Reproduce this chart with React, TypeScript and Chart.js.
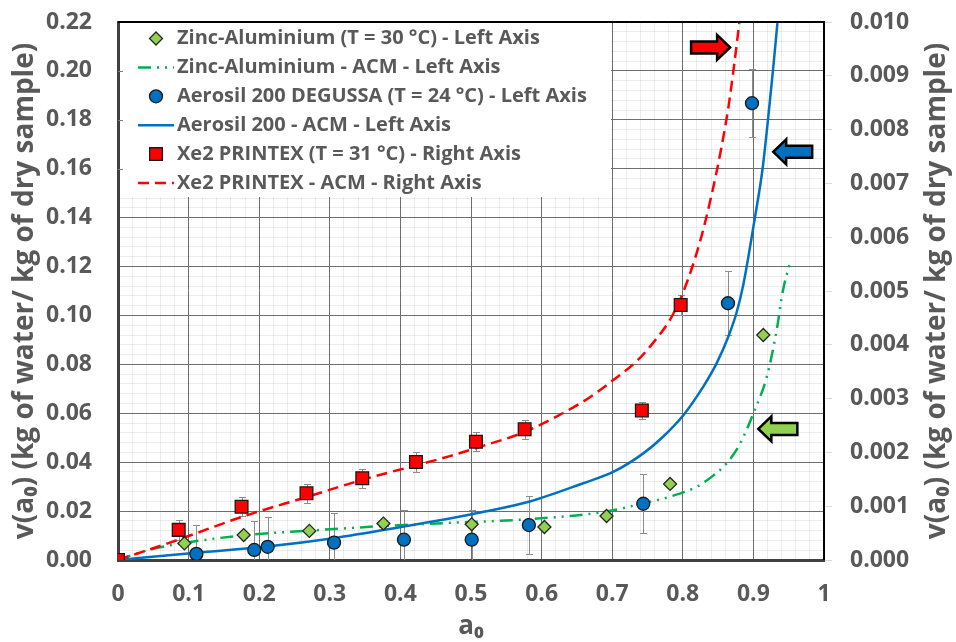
import React, { useEffect, useRef } from 'react';
import { Chart, registerables } from 'chart.js';

Chart.register(...registerables);

const FONT = "'Open Sans', 'DejaVu Sans', sans-serif";
const TEXT_GRAY = '#595959';
const MAJOR_GRID = '#6e6e6e';
const MINOR_GRID = 'rgba(0,0,0,0.075)';

// ---- Measured data (a0 = water activity, v = kg water / kg dry sample) ----
const zincA = [0.094, 0.178, 0.271, 0.376, 0.501, 0.604, 0.692, 0.782, 0.914];
const zincV = [0.0068, 0.0102, 0.0119, 0.0149, 0.0146, 0.0135, 0.018, 0.0311, 0.092];

const aerosilA = [0.111, 0.193, 0.212, 0.306, 0.405, 0.501, 0.582, 0.744, 0.864, 0.898];
const aerosilV = [0.0025, 0.0041, 0.0054, 0.0071, 0.0083, 0.0083, 0.0143, 0.023, 0.105, 0.1868];
const aerosilErr = [0.012, 0.012, 0.012, 0.012, 0.012, 0.012, 0.012, 0.012, 0.013, 0.014];

const xe2A = [0, 0.086, 0.175, 0.267, 0.346, 0.422, 0.507, 0.576, 0.742, 0.797];
const xe2V = [0, 0.00056, 0.00099, 0.00124, 0.00152, 0.00182, 0.0022, 0.00243, 0.00278, 0.00474];
const xe2Err = [0, 0.00018, 0.00018, 0.00018, 0.00018, 0.00018, 0.00018, 0.00018, 0.00015, 0.00018];

// ---- ACM model curves ----
const zincAcmA = [0, 0.03, 0.06, 0.094, 0.178, 0.271, 0.376, 0.47, 0.582, 0.692, 0.744, 0.782, 0.82, 0.843, 0.862, 0.876, 0.886, 0.9, 0.919, 0.933, 0.942, 0.951];
const zincAcmV = [0, 0.003, 0.0052, 0.007, 0.0101, 0.012, 0.0139, 0.0152, 0.0167, 0.0198, 0.0232, 0.0259, 0.03, 0.0345, 0.0395, 0.045, 0.0504, 0.06, 0.075, 0.0941, 0.1104, 0.1207];

const aerosilAcmA = [0, 0.111, 0.211, 0.305, 0.405, 0.47, 0.513, 0.582, 0.659, 0.702, 0.744, 0.772, 0.801, 0.829, 0.848, 0.864, 0.876, 0.886, 0.901, 0.913, 0.921, 0.928, 0.934];
const aerosilAcmV = [0, 0.003, 0.0055, 0.0089, 0.0137, 0.017, 0.0194, 0.0238, 0.0314, 0.0361, 0.0436, 0.0504, 0.0593, 0.0709, 0.0805, 0.091, 0.101, 0.113, 0.138, 0.16, 0.181, 0.201, 0.2195];

const xe2AcmA = [0, 0.086, 0.175, 0.267, 0.346, 0.422, 0.47, 0.507, 0.576, 0.626, 0.669, 0.7, 0.735, 0.763, 0.782, 0.8, 0.824, 0.841, 0.854, 0.865, 0.873, 0.88];
const xe2AcmV = [0, 0.00038, 0.0008, 0.00117, 0.00149, 0.00176, 0.00193, 0.00208, 0.00238, 0.0027, 0.00303, 0.00333, 0.0037, 0.00412, 0.00447, 0.00496, 0.0059, 0.0068, 0.00762, 0.00845, 0.00923, 0.00998];

// ---- Labels ----
const seriesLabels = [
  'Zinc-Aluminium (T = 30 °C) - Left Axis',
  'Zinc-Aluminium - ACM - Left Axis',
  'Aerosil 200 DEGUSSA (T = 24 °C) - Left Axis',
  'Aerosil 200 - ACM - Left Axis',
  'Xe2 PRINTEX (T = 31 °C) - Right Axis',
  'Xe2 PRINTEX - ACM - Right Axis',
];
const yTitle = 'v(a₀) (kg of water/ kg of dry sample)';
const xTitle = 'a₀';

// ---- Arrow annotations (tip position in a0 / left-axis units) ----
const arrowA = [0.867, 0.928, 0.907];
const arrowV = [0.2096, 0.1669, 0.0536];
const arrowDir = ['right', 'left', 'left'];
const arrowColor = ['#FF0000', '#0070C0', '#92D050'];

const pts = (xs: number[], ys: number[]) => xs.map((x, i) => ({ x, y: ys[i] }));
const isMult = (v: number, step: number) => Math.abs(v / step - Math.round(v / step)) < 1e-6;

function drawMarker(ctx: CanvasRenderingContext2D, style: string, x: number, y: number, r: number, fill: string, stroke: string, bw: number) {
  ctx.beginPath();
  if (style === 'circle') {
    ctx.arc(x, y, r, 0, Math.PI * 2);
  } else if (style === 'rectRot') {
    ctx.moveTo(x, y - r);
    ctx.lineTo(x + r, y);
    ctx.lineTo(x, y + r);
    ctx.lineTo(x - r, y);
    ctx.closePath();
  } else {
    const h = r * Math.SQRT1_2;
    ctx.rect(x - h, y - h, 2 * h, 2 * h);
  }
  ctx.fillStyle = fill;
  ctx.fill();
  ctx.lineWidth = bw;
  ctx.strokeStyle = stroke;
  ctx.stroke();
}

const errorBarPlugin = {
  id: 'errorBars',
  beforeDatasetsDraw(chart: any) {
    const { ctx, chartArea } = chart;
    ctx.save();
    ctx.beginPath();
    ctx.rect(chartArea.left, chartArea.top, chartArea.right - chartArea.left, chartArea.bottom - chartArea.top);
    ctx.clip();
    ctx.strokeStyle = '#8c8c8c';
    ctx.lineWidth = 1;
    chart.data.datasets.forEach((ds: any) => {
      const errs = ds.errorBars;
      if (!errs) return;
      const xs = chart.scales.x;
      const ys = chart.scales[ds.yAxisID];
      ds.data.forEach((p: any, i: number) => {
        const e = errs[i];
        if (!e) return;
        const px = Math.round(xs.getPixelForValue(p.x)) + 0.5;
        const y1 = Math.round(ys.getPixelForValue(p.y + e)) + 0.5;
        const y2 = Math.round(ys.getPixelForValue(p.y - e)) + 0.5;
        ctx.beginPath();
        ctx.moveTo(px, y1);
        ctx.lineTo(px, y2);
        ctx.moveTo(px - 3.5, y1);
        ctx.lineTo(px + 3.5, y1);
        ctx.moveTo(px - 3.5, y2);
        ctx.lineTo(px + 3.5, y2);
        ctx.stroke();
      });
    });
    ctx.restore();
  },
};

const legendPlugin = {
  id: 'boxLegend',
  beforeDatasetsDraw(chart: any) {
    const { ctx, chartArea } = chart;
    const left = chartArea.left;
    const top = chartArea.top;
    ctx.save();
    ctx.fillStyle = '#ffffff';
    ctx.fillRect(left + 2, top + 1, 491, 174);
    // inner tick marks of the left axis visible in the legend box
    const ys = chart.scales.y;
    ctx.strokeStyle = '#7f7f7f';
    ctx.lineWidth = 1;
    [0.2, 0.18, 0.16].forEach((v) => {
      const py = Math.round(ys.getPixelForValue(v)) + 0.5;
      ctx.beginPath();
      ctx.moveTo(left, py);
      ctx.lineTo(left + 5, py);
      ctx.stroke();
    });
    chart.data.datasets.forEach((ds: any, i: number) => {
      const cy = top + 16.5 + i * 28.9;
      const cx = left + 38;
      if (ds.showLine) {
        ctx.save();
        ctx.beginPath();
        ctx.setLineDash(ds.borderDash || []);
        ctx.lineWidth = ds.borderWidth;
        ctx.strokeStyle = ds.borderColor;
        ctx.moveTo(cx - 18, cy);
        ctx.lineTo(cx + 18, cy);
        ctx.stroke();
        ctx.restore();
      } else {
        drawMarker(ctx, ds.pointStyle, cx, cy, ds.pointRadius, ds.pointBackgroundColor, ds.pointBorderColor, ds.pointBorderWidth);
      }
      ctx.fillStyle = TEXT_GRAY;
      ctx.font = `bold 20px ${FONT}`;
      ctx.textAlign = 'left';
      ctx.textBaseline = 'middle';
      ctx.fillText(ds.label, left + 59, cy);
    });
    ctx.restore();
  },
};

const framePlugin = {
  id: 'frameArrows',
  afterDatasetsDraw(chart: any) {
    const { ctx, chartArea } = chart;
    ctx.save();
    // top & right frame
    ctx.strokeStyle = '#000000';
    ctx.lineWidth = 2;
    ctx.beginPath();
    ctx.moveTo(chartArea.left, chartArea.top);
    ctx.lineTo(chartArea.right, chartArea.top);
    ctx.lineTo(chartArea.right, chartArea.bottom);
    ctx.stroke();
    // arrows
    const xs = chart.scales.x;
    const ys = chart.scales.y;
    arrowA.forEach((a, i) => {
      const tx = xs.getPixelForValue(a);
      const ty = ys.getPixelForValue(arrowV[i]);
      const s = arrowDir[i] === 'right' ? -1 : 1;
      const L = 39, headL = 13, headH = 25, bodyH = 12;
      ctx.beginPath();
      ctx.moveTo(tx, ty);
      ctx.lineTo(tx + s * headL, ty - headH / 2);
      ctx.lineTo(tx + s * headL, ty - bodyH / 2);
      ctx.lineTo(tx + s * L, ty - bodyH / 2);
      ctx.lineTo(tx + s * L, ty + bodyH / 2);
      ctx.lineTo(tx + s * headL, ty + bodyH / 2);
      ctx.lineTo(tx + s * headL, ty + headH / 2);
      ctx.closePath();
      ctx.fillStyle = arrowColor[i];
      ctx.fill();
      ctx.lineWidth = 2.5;
      ctx.lineJoin = 'miter';
      ctx.strokeStyle = '#000000';
      ctx.stroke();
    });
    ctx.restore();
  },
  afterDraw(chart: any) {
    const { ctx, chartArea } = chart;
    ctx.save();
    ctx.translate(937, (chartArea.top + chartArea.bottom) / 2);
    ctx.rotate(-Math.PI / 2);
    ctx.fillStyle = TEXT_GRAY;
    ctx.font = `bold 28px ${FONT}`;
    ctx.textAlign = 'center';
    ctx.textBaseline = 'middle';
    ctx.fillText(yTitle, 0, 0);
    ctx.restore();
  },
};

const tickFont = { family: FONT, size: 23, weight: 'bold' as const };

const noPadV = (w: number) => (s: any) => { s.width = w; s.paddingTop = 0; s.paddingBottom = 0; };

export default function App() {
  const ref = useRef<HTMLCanvasElement>(null);
  useEffect(() => {
    const datasets: any[] = [
      {
        label: seriesLabels[0], data: pts(zincA, zincV), yAxisID: 'y', showLine: false,
        pointStyle: 'rectRot', pointRadius: 6.5, pointBackgroundColor: '#92D050', pointBorderColor: '#262626', pointBorderWidth: 1.3, order: 2,
      },
      {
        label: seriesLabels[1], data: pts(zincAcmA, zincAcmV), yAxisID: 'y', showLine: true,
        borderColor: '#00B050', borderWidth: 2.5, borderDash: [13, 6, 2, 6, 2, 6], pointRadius: 0, cubicInterpolationMode: 'monotone', order: 5,
      },
      {
        label: seriesLabels[2], data: pts(aerosilA, aerosilV), yAxisID: 'y', showLine: false, errorBars: aerosilErr,
        pointStyle: 'circle', pointRadius: 6.5, pointBackgroundColor: '#0070C0', pointBorderColor: '#1a1a1a', pointBorderWidth: 1.3, order: 1,
      },
      {
        label: seriesLabels[3], data: pts(aerosilAcmA, aerosilAcmV), yAxisID: 'y', showLine: true,
        borderColor: '#0070C0', borderWidth: 2.5, pointRadius: 0, cubicInterpolationMode: 'monotone', order: 4,
      },
      {
        label: seriesLabels[4], data: pts(xe2A, xe2V), yAxisID: 'y2', showLine: false, errorBars: xe2Err,
        pointStyle: 'rect', pointRadius: 9, pointBackgroundColor: '#FF0000', pointBorderColor: '#1a1a1a', pointBorderWidth: 1.3, order: 0,
      },
      {
        label: seriesLabels[5], data: pts(xe2AcmA, xe2AcmV), yAxisID: 'y2', showLine: true,
        borderColor: '#FF0000', borderWidth: 2.5, borderDash: [11, 6], pointRadius: 0, cubicInterpolationMode: 'monotone', order: 3,
      },
    ];

    const chart = new Chart(ref.current as HTMLCanvasElement, {
      type: 'scatter',
      data: { datasets },
      options: {
        animation: false,
        responsive: true,
        maintainAspectRatio: false,
        events: [],
        layout: { padding: { top: 22, left: 0, right: 0, bottom: 0 } },
        plugins: { legend: { display: false }, tooltip: { enabled: false } },
        scales: {
          x: {
            type: 'linear', position: 'bottom', min: 0, max: 1,
            afterFit: (s: any) => { s.height = 82; s.paddingLeft = 0; s.paddingRight = 0; },
            ticks: {
              stepSize: 0.02, autoSkip: false, maxRotation: 0, padding: 21, color: TEXT_GRAY, font: tickFont,
              callback: (v: any) => (isMult(v, 0.1) ? (v === 0 ? '0' : v === 1 ? '1' : Number(v).toFixed(1)) : ''),
            },
            grid: {
              drawTicks: false, lineWidth: 1,
              color: (c: any) => (c.tick && isMult(c.tick.value, 0.1) ? MAJOR_GRID : MINOR_GRID),
            },
            border: { display: true, color: '#404040', width: 3 },
            title: { display: true, text: xTitle, color: TEXT_GRAY, font: { family: FONT, size: 26, weight: 'bold' }, padding: { top: 0, bottom: 0 } },
          },
          y: {
            type: 'linear', position: 'left', min: 0, max: 0.22,
            afterFit: noPadV(118),
            ticks: {
              stepSize: 0.004, autoSkip: false, padding: 26, color: TEXT_GRAY, font: tickFont,
              callback: (v: any) => (isMult(v, 0.02) ? Number(v).toFixed(2) : ''),
            },
            grid: {
              drawTicks: false, lineWidth: 1,
              color: (c: any) => (c.tick && isMult(c.tick.value, 0.02) ? MAJOR_GRID : MINOR_GRID),
            },
            border: { display: true, color: '#404040', width: 3 },
            title: { display: true, text: yTitle, color: TEXT_GRAY, font: { family: FONT, size: 28, weight: 'bold' }, padding: { top: 8, bottom: 0 } },
          },
          y2: {
            type: 'linear', position: 'right', min: 0, max: 0.01,
            afterFit: noPadV(132),
            ticks: {
              stepSize: 0.001, padding: 18, color: TEXT_GRAY, font: tickFont,
              callback: (v: any) => Number(v).toFixed(3),
            },
            grid: { drawOnChartArea: false, drawTicks: true, tickLength: 8, color: '#d9d9d9' },
            border: { display: false },
          },
        },
      } as any,
      plugins: [errorBarPlugin, legendPlugin, framePlugin],
    });
    return () => chart.destroy();
  }, []);

  return (
    <div style={{ position: 'fixed', left: 0, top: 0, width: 956, height: 642, background: '#ffffff' }}>
      <canvas ref={ref} />
    </div>
  );
}
